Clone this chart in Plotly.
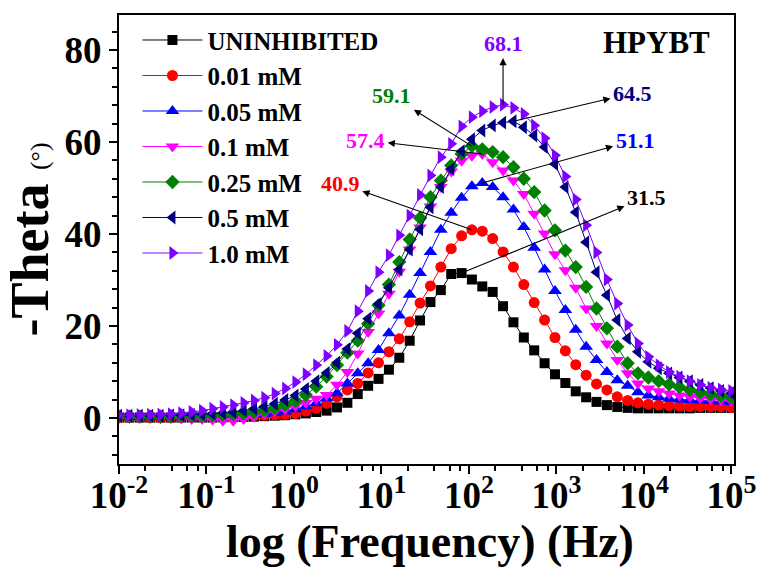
import numpy as np
import plotly.graph_objects as go

freq = [0.01, 0.013143, 0.017275, 0.022705, 0.029842, 0.039222, 0.051551, 0.067755, 0.089053, 0.11705,
        0.15384, 0.20219, 0.26575, 0.34929, 0.45908, 0.60339, 0.79305, 1.0398, 1.3666, 1.7962,
        2.3608, 3.1029, 4.0782, 5.3602, 7.0451, 9.2596, 12.170, 15.996, 21.024, 27.633,
        36.319, 47.735, 62.740, 82.461, 108.12, 142.11, 186.78, 245.49, 322.66, 424.08,
        557.38, 732.57, 962.85, 1265.5, 1663.3, 2186.1, 2873.3, 3776.4, 4963.5, 6523.7,
        8554.9, 11242, 14773, 19398, 25496, 33510, 44044, 57888, 76085, 100000]

uninhibited = [0.1, 0.1, 0.1, 0.1, 0.1, 0.1, 0.1, 0.1, 0.1, 0.1,
               0.15, 0.2, 0.25, 0.3, 0.4, 0.5, 0.6, 0.8, 1.0, 1.3,
               1.6, 2.3, 3.3, 5.2, 7.0, 8.5, 10.5, 13.1, 16.8, 21.2,
               25.2, 27.8, 31.3, 31.5, 30.1, 28.6, 27.4, 24.3, 20.8, 17.5,
               14.7, 11.9, 9.5, 7.6, 5.8, 4.5, 3.5, 2.8, 2.4, 2.2,
               2.1, 2.1, 2.1, 2.1, 2.1, 2.1, 2.2, 2.2, 2.2, 2.2]
c001 = [0.1, 0.1, 0.1, 0.1, 0.1, 0.1, 0.15, 0.2, 0.2, 0.25,
        0.3, 0.35, 0.4, 0.5, 0.6, 0.7, 0.8, 1.0, 1.5, 2.1,
        3.2, 4.6, 6.1, 7.5, 9.8, 12.0, 14.4, 17.2, 20.9, 25.0,
        28.7, 32.8, 36.8, 39.6, 40.9, 40.6, 39.0, 36.1, 32.8, 29.0,
        25.1, 21.3, 17.5, 14.6, 11.6, 9.3, 7.4, 6.1, 4.6, 3.8,
        3.3, 3.0, 2.8, 2.7, 2.6, 2.5, 2.5, 2.4, 2.4, 2.3]
c005 = [0.2, 0.2, 0.2, 0.2, 0.2, 0.25, 0.3, 0.3, 0.35, 0.4,
        0.45, 0.5, 0.6, 0.7, 0.9, 1.1, 1.4, 1.9, 2.5, 3.2,
        4.3, 5.4, 7.5, 9.7, 11.9, 14.8, 18.4, 22.3, 26.8, 31.5,
        36.1, 40.9, 44.6, 47.9, 50.4, 51.1, 50.2, 48.0, 45.3, 41.5,
        37.0, 32.3, 27.6, 23.5, 19.2, 15.5, 12.6, 10.0, 8.2, 7.0,
        5.6, 4.9, 4.5, 4.2, 4.0, 3.9, 3.8, 3.7, 3.6, 3.5]
c01 = [0.1, 0.1, 0.1, 0.1, 0.0, 0.0, -0.1, -0.2, -0.2, -0.3,
       -0.6, -0.6, -0.2, 0.3, 0.9, 1.4, 1.9, 2.6, 3.3, 4.2,
       5.0, 7.2, 10.0, 14.0, 18.7, 22.7, 27.0, 31.8, 36.6, 41.4,
       46.0, 50.2, 53.6, 55.9, 57.0, 57.4, 55.6, 53.8, 51.6, 48.7,
       44.4, 40.1, 35.6, 32.1, 28.3, 23.8, 20.0, 16.2, 12.6, 9.7,
       7.5, 6.4, 5.8, 5.3, 4.9, 4.6, 4.3, 4.1, 3.9, 3.7]
c025 = [0.3, 0.3, 0.3, 0.3, 0.3, 0.35, 0.4, 0.45, 0.5, 0.6,
        0.7, 0.85, 1.0, 1.3, 1.7, 2.2, 2.9, 3.7, 5.0, 6.8,
        9.0, 11.5, 14.2, 16.8, 20.5, 24.5, 29.0, 33.9, 38.8, 43.5,
        48.0, 51.6, 54.9, 57.4, 59.1, 58.4, 57.8, 56.7, 54.5, 52.0,
        49.1, 45.1, 40.8, 36.4, 32.8, 28.5, 23.8, 19.5, 15.5, 11.9,
        9.7, 8.8, 8.0, 7.3, 6.7, 6.1, 5.6, 5.2, 4.8, 4.5]
c05 = [0.5, 0.5, 0.5, 0.5, 0.5, 0.55, 0.6, 0.7, 0.8, 0.9,
       1.1, 1.3, 1.6, 2.0, 2.5, 3.1, 3.9, 4.9, 6.3, 8.0,
       9.8, 12.0, 15.0, 18.4, 21.6, 24.8, 28.3, 32.3, 36.6, 41.0,
       45.8, 50.2, 54.1, 58.0, 60.6, 62.5, 63.6, 64.2, 64.5, 63.2,
       61.4, 58.9, 55.2, 50.2, 44.7, 38.2, 31.7, 26.7, 21.3, 17.3,
       14.4, 12.2, 10.8, 9.7, 8.8, 8.0, 7.2, 6.5, 5.9, 5.4]
c10 = [0.6, 0.6, 0.65, 0.7, 0.75, 0.85, 1.05, 1.3, 1.6, 2.0,
       2.4, 2.8, 3.3, 3.8, 4.4, 5.3, 6.4, 7.8, 9.5, 11.5,
       13.5, 15.9, 18.9, 23.2, 27.6, 31.7, 35.4, 39.7, 44.0, 48.5,
       52.7, 56.7, 59.6, 63.4, 65.4, 66.7, 67.6, 68.1, 67.4, 66.1,
       63.6, 60.8, 57.1, 52.5, 47.5, 41.9, 36.0, 30.1, 24.9, 20.2,
       16.2, 13.3, 11.5, 10.0, 9.0, 8.0, 7.2, 6.6, 6.2, 5.9]

names = ["UNINHIBITED", "0.01 mM", "0.05 mM", "0.1 mM", "0.25 mM", "0.5 mM", "1.0 mM"]
series = [uninhibited, c001, c005, c01, c025, c05, c10]
colors = ["#000000", "#FF0000", "#0000FF", "#FF00FF", "#008000", "#000080", "#8000FF"]
symbols = ["square", "circle", "triangle-up", "triangle-down", "diamond", "triangle-left", "triangle-right"]
sizes = [10, 11, 12, 12, 11, 12, 12]

# peak value labels, placed at (label_x [log10 Hz], label_y)
peak_labels = ["31.5", "40.9", "51.1", "57.4", "59.1", "64.5", "68.1"]
label_x = [4.03, 0.53, 3.90, 0.82, 1.12, 3.87, 2.39]
label_y = [48.0, 51.0, 60.4, 60.4, 70.0, 70.6, 81.5]

xtick_vals = [0.01, 0.1, 1, 10, 100, 1000, 10000, 100000]
xtick_text = ["10<sup>-2</sup>", "10<sup>-1</sup>", "10<sup>0</sup>", "10<sup>1</sup>",
              "10<sup>2</sup>", "10<sup>3</sup>", "10<sup>4</sup>", "10<sup>5</sup>"]

FONT = "Liberation Serif"

fig = go.Figure()
for name, ys, col, sym, sz in zip(names, series, colors, symbols, sizes):
    fig.add_trace(go.Scatter(
        x=freq, y=ys, name=name, mode="lines+markers",
        line=dict(color=col, width=1),
        marker=dict(symbol=sym, size=sz, color=col, line=dict(width=0)),
    ))

annotations = []
for k, txt in enumerate(peak_labels):
    ys = series[k]
    ip = int(np.argmax(ys))
    annotations.append(dict(
        x=float(np.log10(freq[ip])), y=ys[ip], xref="x", yref="y",
        ax=label_x[k], ay=label_y[k], axref="x", ayref="y",
        text="<b>%s</b>" % txt, showarrow=True, arrowside="start",
        arrowhead=2, startarrowhead=2, startarrowsize=1.3, arrowsize=1.3, arrowwidth=1.1,
        arrowcolor="black", standoff=0, startstandoff=0, borderpad=2,
        font=dict(family=FONT, size=22, color=colors[k]),
    ))
annotations.append(dict(
    x=0.964, y=0.938, xref="paper", yref="paper", xanchor="right", yanchor="middle",
    text="<b>HPYBT</b>", showarrow=False, font=dict(family=FONT, size=31, color="black"),
))
# x-axis title
annotations.append(dict(
    x=0.505, y=-0.172, xref="paper", yref="paper", xanchor="center", yanchor="middle",
    text="<b>log (Frequency) (Hz)</b>", showarrow=False,
    font=dict(family=FONT, size=46, color="black"),
))

minor_x = []
for d in [0.01, 0.1, 1, 10, 100, 1000, 10000]:
    for m in [2, 4, 6, 8]:
        minor_x.append(d * m)

fig.update_layout(
    width=757, height=574,
    margin=dict(l=119, r=23, t=15, b=110),
    paper_bgcolor="white", plot_bgcolor="white",
    font=dict(family=FONT, color="black"),
    showlegend=True,
    legend=dict(x=0.03, y=0.995, xanchor="left", yanchor="top",
                font=dict(family=FONT, size=25, color="black", weight="bold"),
                bgcolor="rgba(0,0,0,0)", tracegroupgap=0, itemwidth=60),
    annotations=annotations,
    xaxis=dict(
        type="log", range=[-2, 5.03], automargin=False,
        tickmode="array", tickvals=xtick_vals, ticktext=xtick_text,
        ticks="outside", ticklen=8, tickwidth=2, tickcolor="black",
        ticklabelstandoff=-10,
        showline=True, linewidth=2, linecolor="black", mirror=True,
        showgrid=False, zeroline=False,
        tickfont=dict(family=FONT, size=37, color="black", weight="bold"),
        minor=dict(tickmode="array", tickvals=minor_x, ticks="outside",
                   ticklen=5, tickwidth=2, tickcolor="black", showgrid=False),
    ),
    yaxis=dict(
        range=[-10, 87.6], tickmode="linear", tick0=0, dtick=20, automargin=False,
        ticks="outside", ticklen=8, tickwidth=2, tickcolor="black",
        showline=True, linewidth=2, linecolor="black", mirror=True,
        showgrid=False, zeroline=False,
        tickfont=dict(family=FONT, size=37, color="black", weight="bold"),
        minor=dict(dtick=4, ticks="outside", ticklen=5, tickwidth=2,
                   tickcolor="black", showgrid=False),
        title=dict(text="<b>-Theta</b> <span style='font-size:26px'>(°)</span>",
                   font=dict(family=FONT, size=54, color="black"), standoff=0),
    ),
)

fig.write_html("out.html")
